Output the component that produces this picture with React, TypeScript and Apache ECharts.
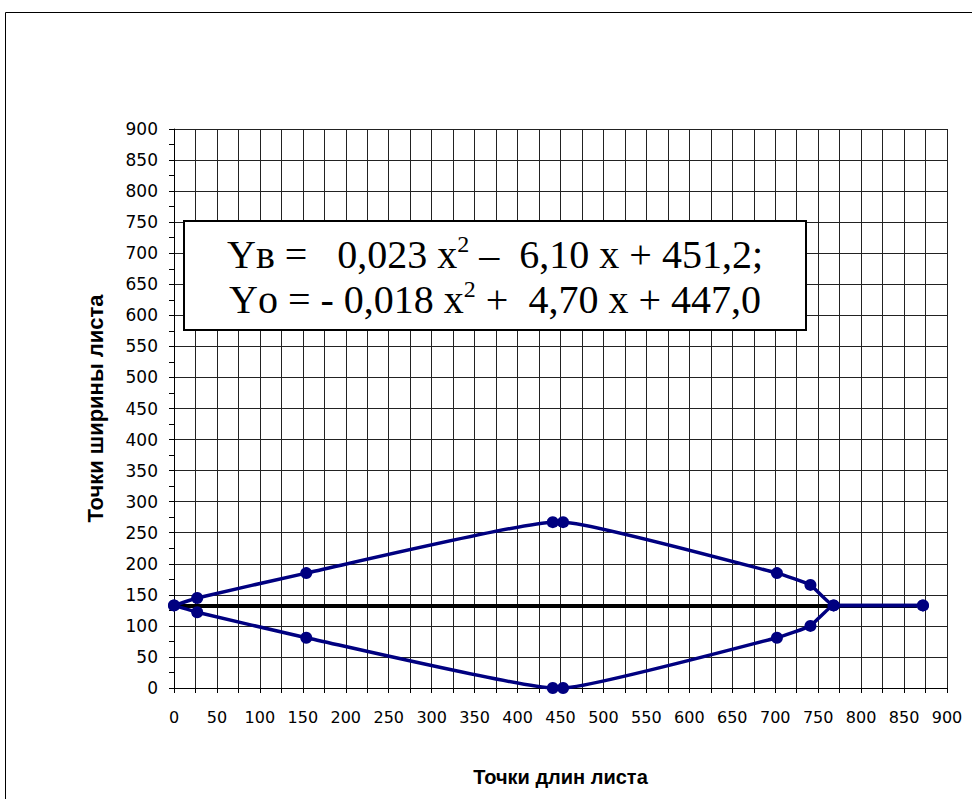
import React, { useEffect, useRef } from "react";
import * as echarts from "echarts";

const xTicks = { min: 0, max: 900, interval: 50 };
const yTicks = { min: 0, max: 900, interval: 50 };

const upperX = [0, 27, 154, 441, 453, 702, 741, 768, 872];
const upperY = [133, 145, 185, 267, 267, 185, 166, 133, 133];
const lowerX = [0, 27, 154, 441, 453, 702, 741, 768, 872];
const lowerY = [133, 122, 81, 0, 0, 81, 100, 133, 133];
const axisLineX = [0, 865];
const axisLineY = [132, 132];

const xTitle = "Точки длин листа";
const yTitle = "Точки ширины листа";
const eqLine1 = ["Yв =   0,023 x", "2", " –  6,10 x + 451,2;"];
const eqLine2 = ["Yо = - 0,018 x", "2", " +  4,70 x + 447,0"];

const NAVY = "#000080";

export default function App() {
  const ref = useRef<HTMLDivElement>(null);
  useEffect(() => {
    if (!ref.current) return;
    const chart = echarts.init(ref.current, null, { renderer: "svg" });
    const zip = (xs: number[], ys: number[]) => xs.map((x, i) => [x, ys[i]]);
    const labelFont = { fontFamily: "DejaVu Sans", fontSize: 16, color: "#000" };
    chart.setOption({
      animation: false,
      backgroundColor: "#fff",
      grid: { left: 174, right: 25, top: 129, bottom: 111, containLabel: false },
      xAxis: {
        type: "value",
        min: xTicks.min,
        max: xTicks.max,
        interval: xTicks.interval,
        name: xTitle,
        nameLocation: "middle",
        nameGap: 79,
        nameTextStyle: { fontFamily: "Liberation Sans", fontWeight: "bold", fontSize: 20, color: "#000" },
        axisLine: { show: true, lineStyle: { color: "#000", width: 1 } },
        axisTick: { show: true, inside: false, length: 5, lineStyle: { color: "#000" } },
        minorTick: { show: true, splitNumber: 2, length: 5, lineStyle: { color: "#000" } },
        splitLine: { show: true, lineStyle: { color: "#222", width: 1 } },
        minorSplitLine: { show: true, lineStyle: { color: "#222", width: 1 } },
        axisLabel: { ...labelFont, margin: 21 },
      },
      yAxis: {
        type: "value",
        min: yTicks.min,
        max: yTicks.max,
        interval: yTicks.interval,
        name: yTitle,
        nameLocation: "middle",
        nameGap: 68,
        nameRotate: 90,
        nameTextStyle: { fontFamily: "Liberation Sans", fontWeight: "bold", fontSize: 22, color: "#000" },
        axisLine: { show: true, lineStyle: { color: "#000", width: 1 } },
        axisTick: { show: true, inside: false, length: 5, lineStyle: { color: "#000" } },
        minorTick: { show: true, splitNumber: 2, length: 5, lineStyle: { color: "#000" } },
        splitLine: { show: true, lineStyle: { color: "#222", width: 1 } },
        minorSplitLine: { show: false },
        axisLabel: { ...labelFont, fontSize: 17, margin: 16 },
      },
      series: [
        {
          type: "line",
          data: zip(axisLineX, axisLineY),
          symbol: "none",
          lineStyle: { color: "#000", width: 4 },
          z: 2,
        },
        {
          type: "line",
          data: zip(upperX, upperY),
          smooth: 0.12,
          symbol: "circle",
          symbolSize: 12,
          itemStyle: { color: NAVY },
          lineStyle: { color: NAVY, width: 3.5 },
          z: 3,
        },
        {
          type: "line",
          data: zip(lowerX, lowerY),
          smooth: 0.12,
          symbol: "circle",
          symbolSize: 12,
          itemStyle: { color: NAVY },
          lineStyle: { color: NAVY, width: 3.5 },
          z: 3,
        },
      ],
      graphic: [
        {
          type: "rect",
          shape: { x: 5.5, y: 12.5, width: 1200, height: 1200 },
          style: { fill: "none", stroke: "#000", lineWidth: 1 },
          z: 1,
        },
        {
          type: "rect",
          shape: { x: 184, y: 221, width: 622, height: 109 },
          style: { fill: "#fff", stroke: "#000", lineWidth: 2 },
          z: 100,
        },
        {
          type: "text",
          x: 495,
          y: 277,
          z: 101,
          style: {
            text:
              `{t|${eqLine1[0]}}{s|${eqLine1[1]}}{t|${eqLine1[2]}}\n` +
              `{t|${eqLine2[0]}}{s|${eqLine2[1]}}{t|${eqLine2[2]}}`,
            align: "center",
            verticalAlign: "middle",
            fill: "#000",
            rich: {
              t: { fontFamily: "Liberation Serif", fontSize: 40, lineHeight: 45, fill: "#000" },
              s: { fontFamily: "Liberation Serif", fontSize: 24, lineHeight: 30, verticalAlign: "top", fill: "#000" },
            },
          },
        },
      ],
    });
    return () => chart.dispose();
  }, []);
  return (
    <div
      ref={ref}
      style={{ position: "fixed", left: 0, top: 0, width: 972, height: 799, background: "#fff" }}
    />
  );
}
